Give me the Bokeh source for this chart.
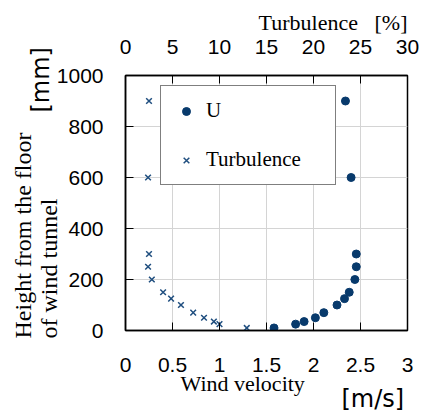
from bokeh.plotting import figure
from bokeh.models import (Range1d, LinearAxis, FixedTicker, Legend, LegendItem,
                          ColumnDataSource, Title)
from bokeh.embed import file_html
from bokeh.resources import INLINE

# ---- data ----
height_mm = [900, 600, 300, 250, 200, 150, 125, 100, 70, 50, 35, 25, 10]
u_velocity = [2.34, 2.40, 2.455, 2.455, 2.44, 2.38, 2.33, 2.25, 2.11, 2.02, 1.90, 1.81, 1.58]
turbulence = [2.5, 2.4, 2.5, 2.4, 2.8, 4.0, 4.85, 5.9, 7.2, 8.35, 9.4, 10.0, 12.9]

x_ticks = [0, 0.5, 1, 1.5, 2, 2.5, 3]
turb_ticks = [0, 5, 10, 15, 20, 25, 30]
y_ticks = [0, 200, 400, 600, 800, 1000]

W, H = 428, 414
p = figure(width=W, height=H, output_backend="svg", toolbar_location=None,
           x_range=Range1d(0, 3), y_range=Range1d(0, 1000),
           min_border_left=125, min_border_right=21, min_border_top=75, min_border_bottom=84,
           x_axis_location=None, y_axis_location=None)
p.extra_x_ranges = {"turb": Range1d(0, 30)}

TICK_FONT = "Liberation Sans"
SERIF = "Liberation Serif"

def style_axis(ax, standoff):
    ax.axis_line_color = "black"
    ax.axis_line_width = 1.5
    ax.major_tick_in = 8
    ax.major_tick_out = 0
    ax.major_tick_line_color = "black"
    ax.major_tick_line_width = 1
    ax.minor_tick_line_color = None
    ax.major_label_text_font = TICK_FONT
    ax.major_label_text_font_size = "21px"
    ax.major_label_text_color = "black"
    ax.major_label_standoff = standoff

xb = LinearAxis(ticker=FixedTicker(ticks=x_ticks))
style_axis(xb, 27)
p.add_layout(xb, "below")

yl = LinearAxis(ticker=FixedTicker(ticks=y_ticks))
style_axis(yl, 22)
p.add_layout(yl, "left")

xt = LinearAxis(x_range_name="turb", ticker=FixedTicker(ticks=turb_ticks))
style_axis(xt, 22)
p.add_layout(xt, "above")

p.xgrid.ticker = FixedTicker(ticks=x_ticks)
p.ygrid.ticker = FixedTicker(ticks=y_ticks)
p.xgrid.grid_line_color = "#d4d4d4"
p.ygrid.grid_line_color = "#d4d4d4"

p.outline_line_color = "black"
p.outline_line_width = 1.5
p.background_fill_color = "white"
p.border_fill_color = "white"

src = ColumnDataSource(dict(h=height_mm, u=u_velocity, t=turbulence))
r_u = p.scatter("u", "h", source=src, marker="circle", size=8,
                fill_color="#083a6c", line_color="#083a6c")
r_t = p.scatter("t", "h", source=src, marker="x", size=8, x_range_name="turb",
                line_color="#1f4e7f", line_width=1.5)

legend = Legend(items=[LegendItem(label="U", renderers=[r_u]),
                       LegendItem(label="Turbulence", renderers=[r_t])],
                location=(35, 145), orientation="vertical",
                border_line_color="black", border_line_width=1.5,
                background_fill_color="white", background_fill_alpha=1,
                label_text_font=SERIF, label_text_font_size="21px",
                label_text_color="black",
                padding=12, spacing=24, label_height=20, label_width=117,
                glyph_width=26, glyph_height=20, label_standoff=7, margin=0)
p.add_layout(legend, "center")

# ---- titles around the plot ----
def title(text, side, font, size, align, valign, offset, standoff):
    t = Title(text=text, align=align, vertical_align=valign, offset=offset,
              standoff=standoff, text_font=font, text_font_size=size,
              text_font_style="normal", text_color="black")
    p.add_layout(t, side)

NB = "\u00a0"
title("Turbulence" + NB * 3 + "[%]", "above", SERIF, "22px", "right", "bottom", 0, 2.5)
title("Wind velocity", "below", SERIF, "22px", "left", "top", 55, -8)
title("[m/s]", "below", "DejaVu Sans", "24px", "left", "top", 216, -18)
title("of wind tunnel", "left", SERIF, "24px", "left", "bottom", -8, -16)
title("[mm]", "left", "DejaVu Sans", "24px", "left", "middle", 218, -29)
title("Height from the floor", "left", SERIF, "24px", "left", "bottom", -8, 8.5)

open("out.html", "w").write(file_html(p, INLINE))
